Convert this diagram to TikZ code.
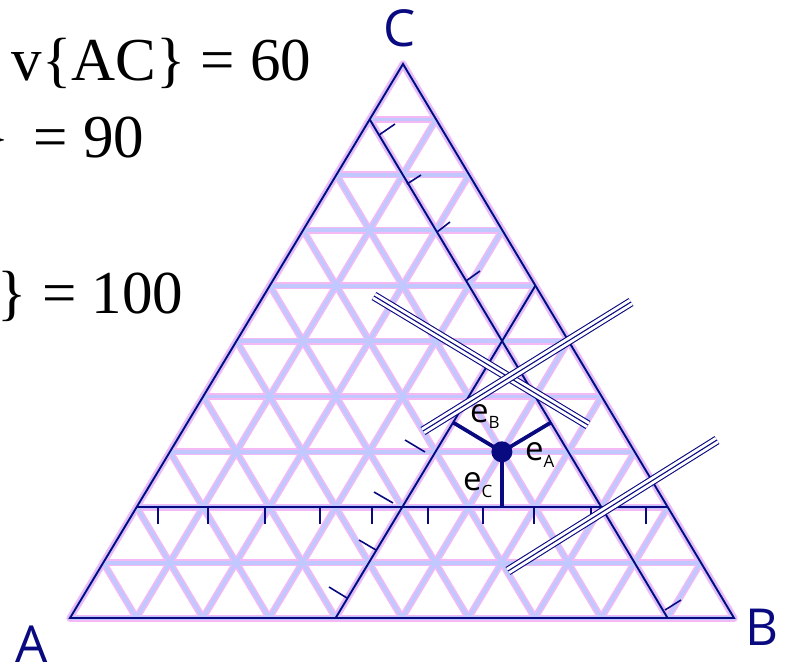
\documentclass[tikz,border=0pt]{standalone}
\usepackage{fontspec}
\setmainfont{Liberation Serif}
\newfontfamily\labelfont{Open Sans}
\usetikzlibrary{calc}
\definecolor{navy}{RGB}{10,10,128}
\definecolor{gridpink}{RGB}{244,184,244}
\definecolor{gridlav}{RGB}{192,200,255}
\tikzset{
  gridout/.style={draw=gridpink, line width=7pt, line cap=round},
  gridin/.style={draw=gridlav, line width=3.8pt, line cap=round},
  navyline/.style={draw=navy, line width=1.9pt},
  tick/.style={draw=navy, line width=1.6pt},
  evec/.style={draw=navy, line width=3.8pt},
  triple/.style={draw=navy, line width=1.1pt,
    preaction={draw=navy, line width=9.2pt},
    preaction={draw=white, line width=7pt}},
  vlabel/.style={text=navy, font=\labelfont\fontsize{51}{51}\selectfont, inner sep=0pt},
  elabel/.style={text=black, font=\labelfont\fontsize{33}{33}\selectfont, inner sep=0pt, anchor=base west},
  bigtext/.style={font=\fontsize{61}{70}\selectfont, inner sep=0pt, anchor=base east}
}
\begin{document}
\begin{tikzpicture}[x=1pt,y=-1pt]
\useasboundingbox (0,0) rectangle (786,666);
\clip (0,0) rectangle (786,666);
\coordinate (A) at (70,618);
\coordinate (B) at (734,618);
\coordinate (C) at (403,64);

% grid
\foreach \k in {0,...,9} {
  \pgfmathsetmacro\u{\k/10}
  \pgfmathsetmacro\v{1-\k/10}
  \draw[gridout] (barycentric cs:A=\v,C=\u) -- (barycentric cs:B=\v,C=\u);
  \draw[gridout] (barycentric cs:A=\v,B=\u) -- (barycentric cs:C=\v,B=\u);
  \draw[gridout] (barycentric cs:B=\v,A=\u) -- (barycentric cs:C=\v,A=\u);
}
\foreach \k in {0,...,9} {
  \pgfmathsetmacro\u{\k/10}
  \pgfmathsetmacro\v{1-\k/10}
  \draw[gridin] (barycentric cs:A=\v,C=\u) -- (barycentric cs:B=\v,C=\u);
  \draw[gridin] (barycentric cs:A=\v,B=\u) -- (barycentric cs:C=\v,B=\u);
  \draw[gridin] (barycentric cs:B=\v,A=\u) -- (barycentric cs:C=\v,A=\u);
}

% outline
\draw[navyline] (A) -- (B) -- (C) -- cycle;

% constant lines
\coordinate (c1) at (barycentric cs:A=0.8,C=0.2);
\coordinate (c2) at (barycentric cs:B=0.8,C=0.2);
\coordinate (b1) at (barycentric cs:A=0.6,B=0.4);
\coordinate (b2) at (barycentric cs:C=0.6,B=0.4);
\coordinate (a1) at (barycentric cs:A=0.1,C=0.9);
\coordinate (a2) at (barycentric cs:A=0.1,B=0.9);
\draw[navyline] (c1) -- (c2);
\draw[navyline] (b1) -- (b2);
\draw[navyline] (a1) -- (a2);

% ticks on horizontal line
\foreach \x in {158,208,265,320,372,428,483,534,591,646}
  \draw[tick] (\x,507) -- (\x,524);
% ticks on b-line
\draw[tick] (374,492) -- (393,503);
\draw[tick] (359,540) -- (376,550);
\draw[tick] (329,587) -- (347,598);
\draw[tick] (405,440) -- (425,452);
% ticks on a-line
\draw[tick] (379,135) -- (395,124);
\draw[tick] (407,184) -- (421,175);
\draw[tick] (437,232) -- (450,222);
\draw[tick] (466,281) -- (480,271);
\draw[tick] (665,610) -- (681,600);

% triple lines
\coordinate (t1s) at (374,296);
\coordinate (t1e) at (588,425);
\coordinate (t2s) at (423,431);
\coordinate (t2e) at (631,302);
\coordinate (t3s) at (508,571);
\coordinate (t3e) at (717,440);
\draw[triple] (t1s) -- (t1e);
\draw[triple] (t2s) -- (t2e);
\draw[triple] (t3s) -- (t3e);

% point and distances
\coordinate (Pc) at (barycentric cs:A=0.2,B=0.5,C=0.3);
\coordinate (fC) at ($(c1)!(Pc)!(c2)$);
\coordinate (fB) at ($(b1)!(Pc)!(b2)$);
\coordinate (fA) at ($(a1)!(Pc)!(a2)$);
\draw[evec] (Pc) -- (fC);
\draw[evec] (Pc) -- (fB);
\draw[evec] (Pc) -- (fA);
\node[circle, fill=navy, inner sep=0pt, minimum size=21pt] (P) at (Pc) {};

\node[elabel] (eB) at (470,422) {e\raisebox{-0.2em}{\fontsize{17}{17}\selectfont B}};
\node[elabel] (eA) at (525,460.5) {e\raisebox{-0.2em}{\fontsize{17}{17}\selectfont A}};
\node[elabel] (eC) at (463,490.5) {e\raisebox{-0.2em}{\fontsize{17}{17}\selectfont C}};

% vertex labels
\node[vlabel] (lA) at (32,644) {A};
\node[vlabel] (lB) at (762,627) {B};
\node[vlabel] (lC) at (400,28) {C};

% clipped text
\node[bigtext] (t1) at (311.5,81) {v\{AC\} = 60};
\node[bigtext] (t2) at (144.5,157) {\}\hspace{9pt} = 90};
\node[bigtext] (t3) at (183.5,313) {\} = 100};
\end{tikzpicture}
\end{document}
